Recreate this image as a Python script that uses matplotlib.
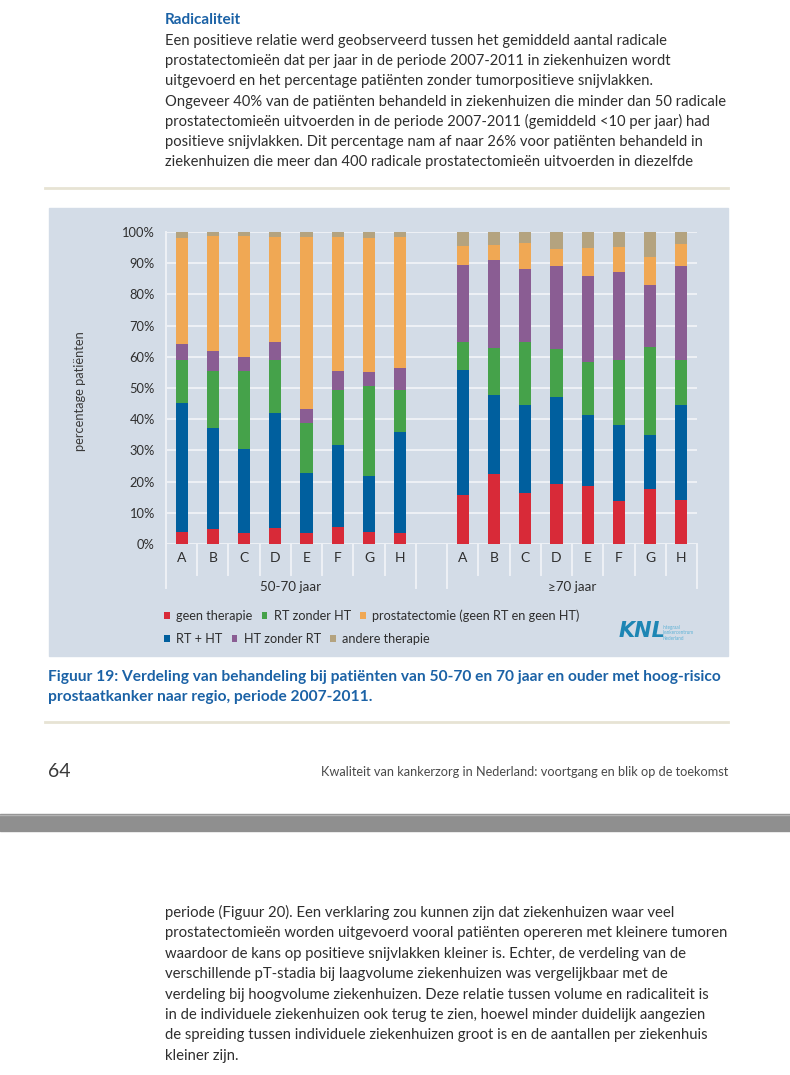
import numpy as np
import matplotlib
matplotlib.use("Agg")
import matplotlib.pyplot as plt
from matplotlib import font_manager
from matplotlib.patches import Rectangle

# --- data ---------------------------------------------------------------
regions = ["A", "B", "C", "D", "E", "F", "G", "H"]
age_groups = ["50-70 jaar", "\u226570 jaar"]

# percentages per bar: first 8 = 50-70 jaar, last 8 = >=70 jaar
geen_therapie = [4.0, 4.7, 3.6, 5.1, 3.6, 5.6, 3.7, 3.6,
                 15.7, 22.4, 16.5, 19.1, 18.7, 13.9, 17.6, 14.2]
rt_ht = [41.1, 32.4, 26.8, 37.0, 19.0, 26.2, 18.1, 32.2,
         40.0, 25.4, 28.2, 28.0, 22.6, 24.3, 17.3, 30.3]
rt_zonder_ht = [13.8, 18.2, 25.2, 16.8, 16.1, 17.6, 28.7, 13.6,
                9.1, 14.9, 20.2, 15.5, 16.9, 20.8, 28.2, 14.4]
ht_zonder_rt = [5.1, 6.7, 4.4, 5.7, 4.6, 5.9, 4.5, 6.9,
                24.5, 28.2, 23.2, 26.6, 27.7, 28.2, 20.0, 30.2]
prostatectomie = [34.1, 36.6, 38.8, 33.7, 55.0, 43.0, 43.1, 42.1,
                  6.2, 5.0, 8.5, 5.3, 9.0, 8.1, 9.0, 7.0]
andere = [1.9, 1.4, 1.2, 1.7, 1.7, 1.7, 1.9, 1.6,
          4.5, 4.1, 3.4, 5.5, 5.1, 4.7, 7.9, 3.9]

series = [
    ("geen therapie", geen_therapie, "#d82a38"),
    ("RT + HT", rt_ht, "#005f9e"),
    ("RT zonder HT", rt_zonder_ht, "#45a24a"),
    ("HT zonder RT", ht_zonder_rt, "#8a5d93"),
    ("prostatectomie (geen RT en geen HT)", prostatectomie, "#f0a854"),
    ("andere therapie", andere, "#b4a37f"),
]

top_text = [
    "Een positieve relatie werd geobserveerd tussen het gemiddeld aantal radicale",
    "prostatectomieën dat per jaar in de periode 2007-2011 in ziekenhuizen wordt",
    "uitgevoerd en het percentage patiënten zonder tumorpositieve snijvlakken.",
    "Ongeveer 40% van de patiënten behandeld in ziekenhuizen die minder dan 50 radicale",
    "prostatectomieën uitvoerden in de periode 2007-2011 (gemiddeld <10 per jaar) had",
    "positieve snijvlakken. Dit percentage nam af naar 26% voor patiënten behandeld in",
    "ziekenhuizen die meer dan 400 radicale prostatectomieën uitvoerden in diezelfde",
]
bottom_text = [
    "periode (Figuur 20). Een verklaring zou kunnen zijn dat ziekenhuizen waar veel",
    "prostatectomieën worden uitgevoerd vooral patiënten opereren met kleinere tumoren",
    "waardoor de kans op positieve snijvlakken kleiner is. Echter, de verdeling van de",
    "verschillende pT-stadia bij laagvolume ziekenhuizen was vergelijkbaar met de",
    "verdeling bij hoogvolume ziekenhuizen. Deze relatie tussen volume en radicaliteit is",
    "in de individuele ziekenhuizen ook terug te zien, hoewel minder duidelijk aangezien",
    "de spreiding tussen individuele ziekenhuizen groot is en de aantallen per ziekenhuis",
    "kleiner zijn.",
]
caption = [
    "Figuur 19: Verdeling van behandeling bij patiënten van 50-70 en 70 jaar en ouder met hoog-risico",
    "prostaatkanker naar regio, periode 2007-2011.",
]

# --- fonts --------------------------------------------------------------
names = {f.name for f in font_manager.fontManager.ttflist}
font = "Liberation Sans Narrow" if "Liberation Sans Narrow" in names else "Lato"
plt.rcParams["font.family"] = [font, "DejaVu Sans"]

W, H = 790, 1075
fig = plt.figure(figsize=(W / 100, H / 100), dpi=100)
fig.patch.set_facecolor("white")


def fx(px):
    return px / W


def fy(py):
    return 1 - py / H


text_col = "#2e2e2e"
blue_col = "#1b62a6"

# --- page text above the chart -----------------------------------------
fig.text(fx(165), fy(24), "Radicaliteit", fontsize=11, fontweight="bold",
         color=blue_col, va="baseline")
for i, line in enumerate(top_text):
    fig.text(fx(165), fy(45 + i * 20.2), line, fontsize=10.65, color=text_col,
             va="baseline")
fig.add_artist(plt.Line2D([fx(45), fx(728)], [fy(188), fy(188)],
                          color="#e7e3d4", lw=2))

# --- chart panel --------------------------------------------------------
fig.add_artist(Rectangle((fx(49), fy(656)), fx(728) - fx(49), fy(208) - fy(656),
                         transform=fig.transFigure, color="#d3dce7", zorder=0))

ax = fig.add_axes([fx(166), fy(544), fx(697) - fx(166), fy(232) - fy(544)])
ax.set_facecolor("none")
x = np.r_[0:8, 9:17]
bottom = np.zeros(len(x))
bars = []
for label, vals, col in series:
    b = ax.bar(x, vals, width=0.39, bottom=bottom, color=col, label=label,
               zorder=3, linewidth=0)
    bars.append(b)
    bottom += np.array(vals)

ax.set_xlim(-0.5, 16.5)
ax.set_ylim(0, 100)
ax.set_yticks(np.arange(0, 101, 10))
ax.set_yticklabels([f"{v}%" for v in range(0, 101, 10)])
ax.grid(axis="y", color="#eef1f6", lw=1.4, zorder=1)
for s in ["top", "right", "bottom"]:
    ax.spines[s].set_visible(False)
ax.spines["left"].set_color("#eef1f6")
ax.spines["left"].set_linewidth(1.4)
ax.tick_params(axis="y", length=0, pad=8, labelsize=9.3, labelcolor=text_col)
ax.set_xticks(x)
ax.set_xticklabels(regions * 2)
ax.tick_params(axis="x", length=0, pad=6, labelsize=10, labelcolor=text_col)
ax.set_ylabel("percentage patiënten", fontsize=9.3, color="#3a3a3a")
ax.yaxis.set_label_coords(-0.15, 0.49)

# separators below the axis
trans = ax.get_xaxis_transform()
for sep in np.arange(-0.5, 17, 1.0):
    long_line = sep in (-0.5, 7.5, 8.5, 16.5)
    ax.plot([sep, sep], [0, -0.141 if long_line else -0.099], color="#eef1f6",
            lw=1.4, transform=trans, clip_on=False)
for cx, name in zip([3.5, 12.5], age_groups):
    ax.text(cx, -0.138, name, transform=trans, ha="center", va="center",
            fontsize=9.6, color=text_col)

# legends in two rows
leg_kw = dict(frameon=False, fontsize=9.1, handlelength=0.45, handleheight=0.45,
              handletextpad=0.5, columnspacing=0.75, borderpad=0,
              borderaxespad=0, ncol=3, labelcolor=text_col)
leg1 = fig.legend([bars[0], bars[2], bars[4]],
                  [series[0][0], series[2][0], series[4][0]],
                  loc="center left", bbox_to_anchor=(fx(164), fy(616)), **leg_kw)
leg2 = fig.legend([bars[1], bars[3], bars[5]],
                  [series[1][0], series[3][0], series[5][0]],
                  loc="center left", bbox_to_anchor=(fx(164), fy(639)), **leg_kw)

# KNL logo
fig.text(fx(619), fy(637), "KNL", fontsize=15, fontweight="bold",
         fontstyle="italic", color="#1d86b4", va="baseline", family="DejaVu Sans")
fig.text(fx(663), fy(633), "integraal\nkankercentrum\nNederland", fontsize=3.3,
         color="#5fb2d6", va="center", linespacing=1.1)

# --- caption and footer -------------------------------------------------
for i, line in enumerate(caption):
    fig.text(fx(48), fy(681 + i * 19.5), line, fontsize=11.15, fontweight="bold",
             color=blue_col, va="baseline")
fig.add_artist(plt.Line2D([fx(45), fx(728)], [fy(722), fy(722)],
                          color="#e7e3d4", lw=2))
fig.text(fx(48), fy(777), "64", fontsize=14, color="#3a3a3a", va="baseline")
fig.text(fx(728), fy(776), "Kwaliteit van kankerzorg in Nederland: voortgang en blik op de toekomst",
         fontsize=9.2, color="#4a4a4a", va="baseline", ha="right")

# grey page break band
fig.add_artist(Rectangle((0, fy(831)), 1, fy(814) - fy(831),
                         transform=fig.transFigure, color="#8f8f8f"))
fig.add_artist(plt.Line2D([0, 1], [fy(814.5), fy(814.5)], color="#b3b3b3", lw=1))

# --- page text below ----------------------------------------------------
for i, line in enumerate(bottom_text):
    fig.text(fx(165), fy(917 + i * 20.4), line, fontsize=10.7, color=text_col,
             va="baseline")

fig.savefig("out.png", dpi=100)
